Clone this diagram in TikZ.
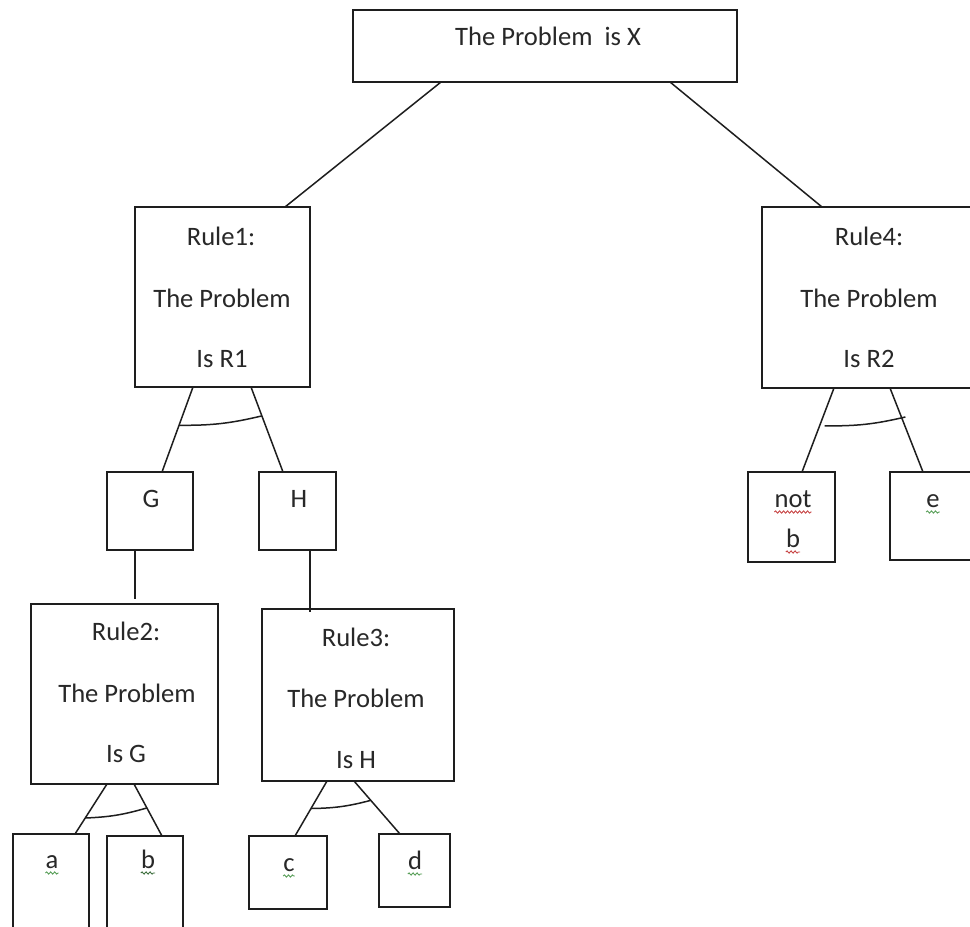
\documentclass[tikz,border=0pt]{standalone}
\usepackage{fontspec}
\setmainfont{Carlito}
\usetikzlibrary{calc,decorations.pathmorphing}
\definecolor{ink}{RGB}{30,30,30}
\definecolor{txt}{RGB}{40,40,40}
\definecolor{sqgreen}{RGB}{90,160,90}
\definecolor{sqred}{RGB}{200,70,70}
\begin{document}
\begin{tikzpicture}[x=1pt,y=-1pt,
  box/.style={draw=ink,line width=1.6pt,rectangle,inner sep=0pt,outer sep=0pt,fill=white},
  lbl/.style={anchor=base,inner sep=0pt,text=txt,font=\fontsize{26.6}{30}\selectfont},
  conn/.style={draw=ink,line width=1.5pt},
  andarc/.style={draw=ink,line width=1.5pt,bend right=7},
  squig/.style={line width=0.9pt,decorate,decoration={snake,amplitude=1.1pt,segment length=4pt}}]
\useasboundingbox (0,0) rectangle (970,927);
\clip (0,0) rectangle (970,927);
\fill[white] (0,0) rectangle (970,927);
% boxes
\node[box,minimum width=384pt,minimum height=72pt] (top) at (545,46) {};
\node[box,minimum width=175pt,minimum height=180pt] (rule1) at (222.5,297) {};
\node[box,minimum width=223pt,minimum height=181pt] (rule4) at (873.5,297.5) {};
\node[box,minimum width=86pt,minimum height=78pt] (g) at (150,511) {};
\node[box,minimum width=77pt,minimum height=78pt] (h) at (297.5,511) {};
\node[box,minimum width=87pt,minimum height=90pt] (notb) at (791.5,517) {};
\node[box,minimum width=95pt,minimum height=88pt] (e) at (937.5,516) {};
\node[box,minimum width=187pt,minimum height=180pt] (rule2) at (124.5,694) {};
\node[box,minimum width=192pt,minimum height=172pt] (rule3) at (358,695) {};
\node[box,minimum width=76pt,minimum height=104pt] (a) at (51,886) {};
\node[box,minimum width=76pt,minimum height=102pt] (b) at (145,887) {};
\node[box,minimum width=78pt,minimum height=73pt] (c) at (288,872.5) {};
\node[box,minimum width=71pt,minimum height=73pt] (d) at (414.5,870.5) {};
% texts
\node[lbl] (ttop) at (548,45) {The Problem\ \ is X};
\node[lbl] (r1a) at (221,245) {Rule1:};
\node[lbl] (r1b) at (222,307) {The Problem};
\node[lbl] (r1c) at (222,367) {Is R1};
\node[lbl] (r4a) at (869,245) {Rule4:};
\node[lbl] (r4b) at (869,307) {The Problem};
\node[lbl] (r4c) at (869,367) {Is R2};
\node[lbl] (tg) at (151,507) {G};
\node[lbl] (th) at (299,507) {H};
\node[lbl] (tnot) at (793,507) {not};
\node[lbl] (tnb) at (793,547) {b};
\node[lbl] (te) at (933,507) {e};
\node[lbl] (r2a) at (126,640) {Rule2:};
\node[lbl] (r2b) at (127,702) {The Problem};
\node[lbl] (r2c) at (126,762) {Is G};
\node[lbl] (r3a) at (356,646) {Rule3:};
\node[lbl] (r3b) at (356,707) {The Problem};
\node[lbl] (r3c) at (356,768) {Is H};
\node[lbl] (ta) at (52,868) {a};
\node[lbl] (tb) at (148,868) {b};
\node[lbl] (tc) at (289,871) {c};
\node[lbl] (td) at (415,869) {d};
% squiggles
\draw[squig,sqred] ($(tnot.base west)+(0,5)$) -- ($(tnot.base east)+(0,5)$);
\draw[squig,sqred] ($(tnb.base west)+(0,5)$) -- ($(tnb.base east)+(0,5)$);
\draw[squig,sqgreen] ($(te.base west)+(0,5)$) -- ($(te.base east)+(0,5)$);
\draw[squig,sqgreen] ($(ta.base west)+(0,5)$) -- ($(ta.base east)+(0,5)$);
\draw[squig,sqgreen!70!black] ($(tb.base west)+(0,5)$) -- ($(tb.base east)+(0,5)$);
\draw[squig,sqgreen] ($(tc.base west)+(0,5)$) -- ($(tc.base east)+(0,5)$);
\draw[squig,sqgreen] ($(td.base west)+(0,5)$) -- ($(td.base east)+(0,5)$);
% connectors from the top box
\draw[conn] ($(top.south west)+(88,0)$) -- ($(rule1.north west)+(150,0)$);
\draw[conn] ($(top.south west)+(317,0)$) -- ($(rule4.north west)+(60,0)$);
% Rule1 -> G, H
\coordinate (r1l) at ($(rule1.south west)+(58,0)$);
\coordinate (gt) at ($(g.north west)+(55,0)$);
\coordinate (r1r) at ($(rule1.south west)+(116,0)$);
\coordinate (ht) at ($(h.north west)+(24,0)$);
\draw[conn] (r1l) -- (gt);
\draw[conn] (r1r) -- (ht);
\draw[andarc] ($(r1l)!0.45!(gt)$) to ($(r1r)!0.34!(ht)$);
% G -> Rule2, H -> Rule3
\draw[conn] ($(g.south west)+(28,0)$) -- ($(rule2.north west)+(104,-5)$);
\draw[conn] ($(h.south west)+(51,0)$) -- ($(rule3.north west)+(48,3)$);
% Rule4 -> not b, e
\coordinate (r4l) at ($(rule4.south west)+(72,0)$);
\coordinate (nbt) at ($(notb.north west)+(54,0)$);
\coordinate (r4r) at ($(rule4.south west)+(128,0)$);
\coordinate (et) at ($(e.north west)+(33,0)$);
\draw[conn] (r4l) -- (nbt);
\draw[conn] (r4r) -- (et);
\draw[andarc] ($(r4l)!0.45!(nbt)+(5,0)$) to ($(r4r)!0.345!(et)+(4,0)$);
% Rule2 -> a, b
\coordinate (r2l) at ($(rule2.south west)+(76,0)$);
\coordinate (at) at ($(a.north west)+(62,0)$);
\coordinate (r2r) at ($(rule2.south west)+(103,0)$);
\coordinate (bt) at ($(b.north west)+(55,0)$);
\draw[conn] (r2l) -- (at);
\draw[conn] (r2r) -- (bt);
\draw[andarc] ($(r2l)!0.68!(at)$) to ($(r2r)!0.46!(bt)$);
% Rule3 -> c, d
\coordinate (r3l) at ($(rule3.south west)+(65,0)$);
\coordinate (ct) at ($(c.north west)+(46,0)$);
\coordinate (r3r) at ($(rule3.south west)+(92,0)$);
\coordinate (dt) at ($(d.north west)+(21,0)$);
\draw[conn] (r3l) -- (ct);
\draw[conn] (r3r) -- (dt);
\draw[andarc] ($(r3l)!0.5!(ct)$) to ($(r3r)!0.365!(dt)$);
\end{tikzpicture}
\end{document}
